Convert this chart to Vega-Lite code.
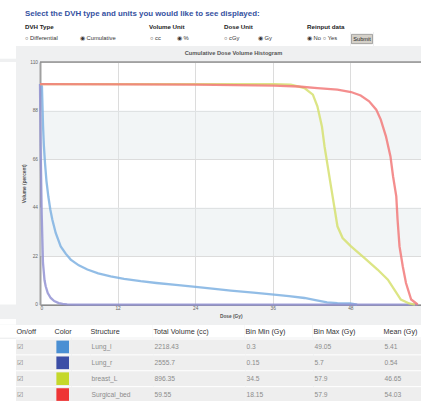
{
"$schema": "https://vega.github.io/schema/vega-lite/v6.json",
"background": "#eff0f1",
"padding": 0,
"spacing": 0,
"config": {"view": {"stroke": null}, "font": "Liberation Sans", "concat": {"spacing": 0}},
"datasets": {
"tbl": [
{"structure": "Lung_l", "total": 2218.43, "binMin": 0.3, "binMax": 49.05, "mean": 5.41},
{"structure": "Lung_r", "total": 2555.7, "binMin": 0.15, "binMax": 5.7, "mean": 0.54},
{"structure": "breast_L", "total": 896.35, "binMin": 34.5, "binMax": 57.9, "mean": 46.65},
{"structure": "Surgical_bed", "total": 59.55, "binMin": 18.15, "binMax": 57.9, "mean": 54.03}
],
"dvh": [
{"structure": "Lung_l", "dose": 0, "volume": 100},
{"structure": "Lung_l", "dose": 0.3, "volume": 99},
{"structure": "Lung_l", "dose": 0.47, "volume": 81},
{"structure": "Lung_l", "dose": 0.6, "volume": 72},
{"structure": "Lung_l", "dose": 0.78, "volume": 64},
{"structure": "Lung_l", "dose": 1.0, "volume": 56},
{"structure": "Lung_l", "dose": 1.29, "volume": 49},
{"structure": "Lung_l", "dose": 1.6, "volume": 43},
{"structure": "Lung_l", "dose": 1.91, "volume": 38.5},
{"structure": "Lung_l", "dose": 2.43, "volume": 32.5},
{"structure": "Lung_l", "dose": 3.2, "volume": 26.4},
{"structure": "Lung_l", "dose": 4.0, "volume": 23},
{"structure": "Lung_l", "dose": 4.75, "volume": 20.4},
{"structure": "Lung_l", "dose": 6.0, "volume": 17.8},
{"structure": "Lung_l", "dose": 7.33, "volume": 15.9},
{"structure": "Lung_l", "dose": 9.0, "volume": 14.2},
{"structure": "Lung_l", "dose": 10.93, "volume": 12.8},
{"structure": "Lung_l", "dose": 13.0, "volume": 11.7},
{"structure": "Lung_l", "dose": 15.57, "volume": 10.6},
{"structure": "Lung_l", "dose": 18.0, "volume": 9.8},
{"structure": "Lung_l", "dose": 21.0, "volume": 8.9},
{"structure": "Lung_l", "dose": 24.06, "volume": 8.0},
{"structure": "Lung_l", "dose": 27.0, "volume": 7.1},
{"structure": "Lung_l", "dose": 29.5, "volume": 6.3},
{"structure": "Lung_l", "dose": 33.0, "volume": 5.4},
{"structure": "Lung_l", "dose": 36.2, "volume": 4.5},
{"structure": "Lung_l", "dose": 38.5, "volume": 3.8},
{"structure": "Lung_l", "dose": 40.9, "volume": 3.0},
{"structure": "Lung_l", "dose": 42.6, "volume": 2.0},
{"structure": "Lung_l", "dose": 44.4, "volume": 1.0},
{"structure": "Lung_l", "dose": 46.0, "volume": 0.7},
{"structure": "Lung_l", "dose": 48.0, "volume": 0.5},
{"structure": "Lung_l", "dose": 49.05, "volume": 0},
{"structure": "Lung_r", "dose": 0, "volume": 100},
{"structure": "Lung_r", "dose": 0.1, "volume": 72},
{"structure": "Lung_r", "dose": 0.26, "volume": 41.5},
{"structure": "Lung_r", "dose": 0.46, "volume": 19},
{"structure": "Lung_r", "dose": 0.7, "volume": 11},
{"structure": "Lung_r", "dose": 0.88, "volume": 8.3},
{"structure": "Lung_r", "dose": 1.2, "volume": 5.2},
{"structure": "Lung_r", "dose": 1.66, "volume": 3.0},
{"structure": "Lung_r", "dose": 2.2, "volume": 1.6},
{"structure": "Lung_r", "dose": 2.9, "volume": 0.7},
{"structure": "Lung_r", "dose": 3.5, "volume": 0.3},
{"structure": "Lung_r", "dose": 4.2, "volume": 0.1},
{"structure": "Lung_r", "dose": 5.7, "volume": 0},
{"structure": "Lung_r", "dose": 20, "volume": 0},
{"structure": "Lung_r", "dose": 40, "volume": 0},
{"structure": "Lung_r", "dose": 58.4, "volume": 0},
{"structure": "breast_L", "dose": 0, "volume": 100},
{"structure": "breast_L", "dose": 20, "volume": 100},
{"structure": "breast_L", "dose": 36.2, "volume": 100},
{"structure": "breast_L", "dose": 38.8, "volume": 99.7},
{"structure": "breast_L", "dose": 40.9, "volume": 98.2},
{"structure": "breast_L", "dose": 42.2, "volume": 95.2},
{"structure": "breast_L", "dose": 42.9, "volume": 89.9},
{"structure": "breast_L", "dose": 43.6, "volume": 80.8},
{"structure": "breast_L", "dose": 44.0, "volume": 71.8},
{"structure": "breast_L", "dose": 44.5, "volume": 62.7},
{"structure": "breast_L", "dose": 45.0, "volume": 53.6},
{"structure": "breast_L", "dose": 45.5, "volume": 44.6},
{"structure": "breast_L", "dose": 46.0, "volume": 35.5},
{"structure": "breast_L", "dose": 46.8, "volume": 30.2},
{"structure": "breast_L", "dose": 48.1, "volume": 26.4},
{"structure": "breast_L", "dose": 50.2, "volume": 21.1},
{"structure": "breast_L", "dose": 52.2, "volume": 15.9},
{"structure": "breast_L", "dose": 53.8, "volume": 11.3},
{"structure": "breast_L", "dose": 54.8, "volume": 6.8},
{"structure": "breast_L", "dose": 55.8, "volume": 2.3},
{"structure": "breast_L", "dose": 57.1, "volume": 0.5},
{"structure": "breast_L", "dose": 58.0, "volume": 0},
{"structure": "Surgical_bed", "dose": 0, "volume": 100},
{"structure": "Surgical_bed", "dose": 14, "volume": 99.9},
{"structure": "Surgical_bed", "dose": 24, "volume": 99.7},
{"structure": "Surgical_bed", "dose": 36.2, "volume": 99.3},
{"structure": "Surgical_bed", "dose": 40, "volume": 98.9},
{"structure": "Surgical_bed", "dose": 42.9, "volume": 98.2},
{"structure": "Surgical_bed", "dose": 46, "volume": 97.5},
{"structure": "Surgical_bed", "dose": 48.1, "volume": 96.4},
{"structure": "Surgical_bed", "dose": 49.6, "volume": 94.8},
{"structure": "Surgical_bed", "dose": 50.9, "volume": 92.2},
{"structure": "Surgical_bed", "dose": 52.0, "volume": 88.4},
{"structure": "Surgical_bed", "dose": 52.7, "volume": 83.9},
{"structure": "Surgical_bed", "dose": 53.5, "volume": 76.3},
{"structure": "Surgical_bed", "dose": 54.2, "volume": 67.2},
{"structure": "Surgical_bed", "dose": 54.6, "volume": 58.2},
{"structure": "Surgical_bed", "dose": 55.1, "volume": 49.1},
{"structure": "Surgical_bed", "dose": 55.3, "volume": 38.5},
{"structure": "Surgical_bed", "dose": 55.6, "volume": 26.4},
{"structure": "Surgical_bed", "dose": 56.1, "volume": 17.4},
{"structure": "Surgical_bed", "dose": 56.6, "volume": 9.8},
{"structure": "Surgical_bed", "dose": 57.4, "volume": 2.3},
{"structure": "Surgical_bed", "dose": 58.2, "volume": 0.5},
{"structure": "Surgical_bed", "dose": 58.4, "volume": 0}
]
},
"vconcat": [
{"hconcat": [
 {"width": 25, "height": 21, "view": {"fill": "#ffffff"}, "data": {"values": [{}]}, "mark": {"type": "text", "text": "", "fontSize": 1}},
 {"width": 396, "height": 21, "view": {"fill": "#ffffff"}, "data": {"values": [{}]}, "mark": {"type": "text", "text": "Select the DVH type and units you would like to see displayed:", "align": "left", "baseline": "middle", "fontSize": 7.9, "fontWeight": "bold", "fill": "#35519f", "dy": 3.8}, "encoding": {"x": {"datum": 0, "type": "quantitative", "scale": {"domain": [0, 1]}, "axis": null}}}
]},
{"hconcat": [
 {"width": 25, "height": 11, "view": {"fill": "#ffffff"}, "data": {"values": [{}]}, "mark": {"type": "text", "text": "", "fontSize": 1}},
 {"width": 124, "height": 11, "view": {"fill": "#ffffff"}, "data": {"values": [{}]}, "mark": {"type": "text", "text": "DVH Type", "align": "left", "baseline": "middle", "fontSize": 6.2, "fontWeight": "bold", "fill": "#222222"}, "encoding": {"x": {"datum": 0, "type": "quantitative", "scale": {"domain": [0, 1]}, "axis": null}}},
 {"width": 75, "height": 11, "view": {"fill": "#ffffff"}, "data": {"values": [{}]}, "mark": {"type": "text", "text": "Volume Unit", "align": "left", "baseline": "middle", "fontSize": 6.2, "fontWeight": "bold", "fill": "#222222"}, "encoding": {"x": {"datum": 0, "type": "quantitative", "scale": {"domain": [0, 1]}, "axis": null}}},
 {"width": 83, "height": 11, "view": {"fill": "#ffffff"}, "data": {"values": [{}]}, "mark": {"type": "text", "text": "Dose Unit", "align": "left", "baseline": "middle", "fontSize": 6.2, "fontWeight": "bold", "fill": "#222222"}, "encoding": {"x": {"datum": 0, "type": "quantitative", "scale": {"domain": [0, 1]}, "axis": null}}},
 {"width": 114, "height": 11, "view": {"fill": "#ffffff"}, "data": {"values": [{}]}, "mark": {"type": "text", "text": "Reinput data", "align": "left", "baseline": "middle", "fontSize": 6.2, "fontWeight": "bold", "fill": "#222222"}, "encoding": {"x": {"datum": 0, "type": "quantitative", "scale": {"domain": [0, 1]}, "axis": null}}}
]},
{"hconcat": [
 {"width": 25, "height": 14, "view": {"fill": "#ffffff"}, "data": {"values": [{}]}, "mark": {"type": "text", "text": "", "fontSize": 1}},
 {"width": 55, "height": 14, "view": {"fill": "#ffffff"}, "data": {"values": [{}]}, "mark": {"type": "text", "text": "○ Differential", "align": "left", "baseline": "middle", "fontSize": 5.8, "fill": "#333333", "dy": -1.3}, "encoding": {"x": {"datum": 0, "type": "quantitative", "scale": {"domain": [0, 1]}, "axis": null}}},
 {"width": 70, "height": 14, "view": {"fill": "#ffffff"}, "data": {"values": [{}]}, "mark": {"type": "text", "text": "◉ Cumulative", "align": "left", "baseline": "middle", "fontSize": 5.8, "fill": "#333333", "dy": -1.3}, "encoding": {"x": {"datum": 0, "type": "quantitative", "scale": {"domain": [0, 1]}, "axis": null}}},
 {"width": 27, "height": 14, "view": {"fill": "#ffffff"}, "data": {"values": [{}]}, "mark": {"type": "text", "text": "○ cc", "align": "left", "baseline": "middle", "fontSize": 5.8, "fill": "#333333", "dy": -1.3}, "encoding": {"x": {"datum": 0, "type": "quantitative", "scale": {"domain": [0, 1]}, "axis": null}}},
 {"width": 47, "height": 14, "view": {"fill": "#ffffff"}, "data": {"values": [{}]}, "mark": {"type": "text", "text": "◉ %", "align": "left", "baseline": "middle", "fontSize": 5.8, "fill": "#333333", "dy": -1.3}, "encoding": {"x": {"datum": 0, "type": "quantitative", "scale": {"domain": [0, 1]}, "axis": null}}},
 {"width": 34, "height": 14, "view": {"fill": "#ffffff"}, "data": {"values": [{}]}, "mark": {"type": "text", "text": "○ cGy", "align": "left", "baseline": "middle", "fontSize": 5.8, "fill": "#333333", "dy": -1.3}, "encoding": {"x": {"datum": 0, "type": "quantitative", "scale": {"domain": [0, 1]}, "axis": null}}},
 {"width": 49, "height": 14, "view": {"fill": "#ffffff"}, "data": {"values": [{}]}, "mark": {"type": "text", "text": "◉ Gy", "align": "left", "baseline": "middle", "fontSize": 5.8, "fill": "#333333", "dy": -1.3}, "encoding": {"x": {"datum": 0, "type": "quantitative", "scale": {"domain": [0, 1]}, "axis": null}}},
 {"width": 43, "height": 14, "view": {"fill": "#ffffff"}, "data": {"values": [{}]}, "mark": {"type": "text", "text": "◉ No ○ Yes", "align": "left", "baseline": "middle", "fontSize": 5.8, "fill": "#333333", "dy": -1.3}, "encoding": {"x": {"datum": 0, "type": "quantitative", "scale": {"domain": [0, 1]}, "axis": null}}},
 {"width": 22, "height": 14, "view": {"fill": "#ffffff"}, "data": {"values": [{}]}, "layer": [
  {"mark": {"type": "point", "shape": "M-1,-0.443H1V0.443H-1Z", "size": 441, "filled": true, "fill": "#d4d0c8", "stroke": "#8a8a8a", "strokeWidth": 0.7, "opacity": 1}},
  {"mark": {"type": "text", "text": "Submit", "align": "center", "baseline": "middle", "fontSize": 5.6, "fill": "#222222"}}
 ]},
 {"width": 49, "height": 14, "view": {"fill": "#ffffff"}, "data": {"values": [{}]}, "mark": {"type": "text", "text": "", "fontSize": 1}}
]},
{"hconcat": [
 {"width": 16, "height": 12.7, "view": {"fill": "#ffffff"}, "data": {"values": [{}]}, "mark": {"type": "text", "text": "", "fontSize": 1}},
 {"width": 405, "height": 12.7, "view": {"fill": "#eff0f1"}, "data": {"values": [{}]}, "mark": {"type": "text", "text": "Cumulative Dose Volume Histogram", "align": "center", "baseline": "middle", "fontSize": 5.7, "fontWeight": "bold", "fill": "#555555", "dx": 15, "dy": 0.7}}
]},
{"bounds": "flush", "hconcat": [
 {"width": 16, "height": 242.6, "view": {"fill": "#ffffff"}, "data": {"values": [{}]}, "mark": {"type": "text", "text": "", "fontSize": 1}},
 {"width": 23.3, "height": 242.6, "view": {"fill": "#eff0f1"}, "data": {"values": [{}]}, "mark": {"type": "text", "text": "", "fontSize": 1}},
 {"width": 381.5, "height": 242.6, "view": {"fill": "#ffffff"},
  "layer": [
   {"data": {"values": [{"lo": 22, "hi": 44}, {"lo": 66, "hi": 88}]},
    "mark": {"type": "rect", "fill": "#e3e8ec", "opacity": 0.45},
    "encoding": {
     "y": {"field": "lo", "type": "quantitative", "scale": {"domain": [0, 110], "nice": false, "zero": false},
      "axis": {"values": [0, 22, 44, 66, 88, 110], "grid": true, "gridColor": "#dcdcdc", "domainColor": "#a0a0a0", "domainWidth": 2, "ticks": false, "labelFontSize": 4.8, "labelColor": "#666666", "labelPadding": 2.5, "title": "Volume (percent)", "titleFontSize": 4.8, "titleFontWeight": "bold", "titleColor": "#555555", "titlePadding": 3}},
     "y2": {"field": "hi"}
    }},
   {"data": {"values": [{}]},
    "mark": {"type": "rule", "stroke": "#666666", "strokeWidth": 1},
    "encoding": {"y": {"datum": 110, "type": "quantitative"}}},
   {"data": {"name": "dvh"},
    "mark": {"type": "line", "strokeWidth": 2.3, "opacity": 0.85},
    "encoding": {
     "x": {"field": "dose", "type": "quantitative", "scale": {"domain": [0, 59], "nice": false},
      "axis": {"values": [0, 12, 24, 36, 48], "grid": true, "gridColor": "#dcdcdc", "domainColor": "#555555", "domainWidth": 1, "ticks": false, "labelFontSize": 4.8, "labelColor": "#666666", "labelPadding": 1, "title": "Dose (Gy)", "titleFontSize": 4.8, "titleFontWeight": "bold", "titleColor": "#555555", "titlePadding": 3}},
     "y": {"field": "volume", "type": "quantitative"},
     "stroke": {"field": "structure", "type": "nominal", "scale": {"domain": ["Lung_l", "Lung_r", "breast_L", "Surgical_bed"], "range": ["#7fb2e2", "#9393d4", "#d6e070", "#f27a7a"]}, "legend": null}
    }}
  ]}
]},
{"hconcat": [
 {"width": 16, "height": 5.7, "view": {"fill": "#ffffff"}, "data": {"values": [{}]}, "mark": {"type": "text", "text": "", "fontSize": 1}},
 {"width": 405, "height": 5.7, "view": {"fill": "#eff0f1"}, "data": {"values": [{}]}, "mark": {"type": "text", "text": "", "fontSize": 1}}
]},
{"bounds": "flush", "hconcat": [
 {"width": 16, "height": 12.6, "view": {"fill": "#ffffff"}, "data": {"values": [{}]}, "mark": {"type": "text", "text": "", "fontSize": 1}},
 {"width": 38, "height": 12.6, "view": {"fill": "#ffffff"}, "data": {"values": [{}]}, "mark": {"type": "text", "text": "On/off", "align": "left", "baseline": "middle", "fontSize": 7.2, "fill": "#333333", "dx": 0.5, "dy": 0.7}, "encoding": {"x": {"datum": 0, "type": "quantitative", "scale": {"domain": [0, 1]}, "axis": null}}},
 {"width": 36, "height": 12.6, "view": {"fill": "#ffffff"}, "data": {"values": [{}]}, "mark": {"type": "text", "text": "Color", "align": "left", "baseline": "middle", "fontSize": 7.2, "fill": "#333333", "dx": 0.5, "dy": 0.7}, "encoding": {"x": {"datum": 0, "type": "quantitative", "scale": {"domain": [0, 1]}, "axis": null}}},
 {"width": 62.7, "height": 12.6, "view": {"fill": "#ffffff"}, "data": {"values": [{}]}, "mark": {"type": "text", "text": "Structure", "align": "left", "baseline": "middle", "fontSize": 7.2, "fill": "#333333", "dx": 0.5, "dy": 0.7}, "encoding": {"x": {"datum": 0, "type": "quantitative", "scale": {"domain": [0, 1]}, "axis": null}}},
 {"width": 91.6, "height": 12.6, "view": {"fill": "#ffffff"}, "data": {"values": [{}]}, "mark": {"type": "text", "text": "Total Volume (cc)", "align": "left", "baseline": "middle", "fontSize": 7.2, "fill": "#333333", "dx": 0.5, "dy": 0.7}, "encoding": {"x": {"datum": 0, "type": "quantitative", "scale": {"domain": [0, 1]}, "axis": null}}},
 {"width": 67.4, "height": 12.6, "view": {"fill": "#ffffff"}, "data": {"values": [{}]}, "mark": {"type": "text", "text": "Bin Min (Gy)", "align": "left", "baseline": "middle", "fontSize": 7.2, "fill": "#333333", "dx": 0.5, "dy": 0.7}, "encoding": {"x": {"datum": 0, "type": "quantitative", "scale": {"domain": [0, 1]}, "axis": null}}},
 {"width": 70, "height": 12.6, "view": {"fill": "#ffffff"}, "data": {"values": [{}]}, "mark": {"type": "text", "text": "Bin Max (Gy)", "align": "left", "baseline": "middle", "fontSize": 7.2, "fill": "#333333", "dx": 0.5, "dy": 0.7}, "encoding": {"x": {"datum": 0, "type": "quantitative", "scale": {"domain": [0, 1]}, "axis": null}}},
 {"width": 39.3, "height": 12.6, "view": {"fill": "#ffffff"}, "data": {"values": [{}]}, "mark": {"type": "text", "text": "Mean (Gy)", "align": "left", "baseline": "middle", "fontSize": 7.2, "fill": "#333333", "dx": 0.5, "dy": 0.7}, "encoding": {"x": {"datum": 0, "type": "quantitative", "scale": {"domain": [0, 1]}, "axis": null}}}
]},
{"bounds": "flush", "hconcat": [
 {"width": 16, "height": 63.5, "view": {"fill": "#ffffff"}, "data": {"values": [{}]}, "mark": {"type": "text", "text": "", "fontSize": 1}},
 {"width": 38, "height": 63.5, "data": {"name": "tbl"}, "layer": [
  {"mark": {"type": "rect", "fill": "#eeeeee"}, "encoding": {"y": {"field": "structure", "type": "nominal", "sort": null, "scale": {"type": "band", "domain": ["Lung_l", "Lung_r", "breast_L", "Surgical_bed"], "paddingInner": 0, "paddingOuter": 0}, "axis": null}}},
  {"mark": {"type": "rule", "stroke": "#ffffff", "strokeWidth": 1}, "encoding": {"y": {"field": "structure", "type": "nominal", "bandPosition": 0, "axis": null}}},
  {"mark": {"type": "text", "text": "☑", "align": "left", "baseline": "middle", "fontSize": 6.5, "fill": "#777777", "dx": 0.5}, "encoding": {"y": {"field": "structure", "type": "nominal", "axis": null}, "x": {"datum": 0, "type": "quantitative", "scale": {"domain": [0, 1]}, "axis": null}}}
 ]},
 {"width": 17.4, "height": 63.5, "data": {"name": "tbl"}, "layer": [
  {"mark": {"type": "rect", "fill": "#eeeeee"}, "encoding": {"y": {"field": "structure", "type": "nominal", "sort": null, "scale": {"type": "band", "domain": ["Lung_l", "Lung_r", "breast_L", "Surgical_bed"], "paddingInner": 0, "paddingOuter": 0}, "axis": null}}},
  {"mark": {"type": "rule", "stroke": "#ffffff", "strokeWidth": 1}, "encoding": {"y": {"field": "structure", "type": "nominal", "bandPosition": 0, "axis": null}}},
  {"mark": {"type": "point", "shape": "square", "filled": true, "size": 160, "opacity": 1}, "encoding": {"y": {"field": "structure", "type": "nominal", "axis": null}, "fill": {"field": "structure", "type": "nominal", "scale": {"domain": ["Lung_l", "Lung_r", "breast_L", "Surgical_bed"], "range": ["#4a8fd3", "#3c4ea6", "#c5d82b", "#ee3535"]}, "legend": null}}}
 ]},
 {"width": 18.6, "height": 63.5, "data": {"name": "tbl"}, "layer": [
  {"mark": {"type": "rect", "fill": "#eeeeee"}, "encoding": {"y": {"field": "structure", "type": "nominal", "sort": null, "scale": {"type": "band", "domain": ["Lung_l", "Lung_r", "breast_L", "Surgical_bed"], "paddingInner": 0, "paddingOuter": 0}, "axis": null}}},
  {"mark": {"type": "rule", "stroke": "#ffffff", "strokeWidth": 1}, "encoding": {"y": {"field": "structure", "type": "nominal", "bandPosition": 0, "axis": null}}}
 ]},
 {"width": 62.7, "height": 63.5, "data": {"name": "tbl"}, "layer": [
  {"mark": {"type": "rect", "fill": "#eeeeee"}, "encoding": {"y": {"field": "structure", "type": "nominal", "sort": null, "scale": {"type": "band", "domain": ["Lung_l", "Lung_r", "breast_L", "Surgical_bed"], "paddingInner": 0, "paddingOuter": 0}, "axis": null}}},
  {"mark": {"type": "rule", "stroke": "#ffffff", "strokeWidth": 1}, "encoding": {"y": {"field": "structure", "type": "nominal", "bandPosition": 0, "axis": null}}},
  {"mark": {"type": "text", "align": "left", "baseline": "middle", "fontSize": 6.7, "fill": "#8c8c8c", "dx": 0.5}, "encoding": {"y": {"field": "structure", "type": "nominal", "axis": null}, "x": {"datum": 0, "type": "quantitative", "scale": {"domain": [0, 1]}, "axis": null}, "text": {"field": "structure", "type": "nominal"}}}
 ]},
 {"width": 91.6, "height": 63.5, "data": {"name": "tbl"}, "layer": [
  {"mark": {"type": "rect", "fill": "#eeeeee"}, "encoding": {"y": {"field": "structure", "type": "nominal", "sort": null, "scale": {"type": "band", "domain": ["Lung_l", "Lung_r", "breast_L", "Surgical_bed"], "paddingInner": 0, "paddingOuter": 0}, "axis": null}}},
  {"mark": {"type": "rule", "stroke": "#ffffff", "strokeWidth": 1}, "encoding": {"y": {"field": "structure", "type": "nominal", "bandPosition": 0, "axis": null}}},
  {"mark": {"type": "text", "align": "left", "baseline": "middle", "fontSize": 6.7, "fill": "#8c8c8c", "dx": 0.5}, "encoding": {"y": {"field": "structure", "type": "nominal", "axis": null}, "x": {"datum": 0, "type": "quantitative", "scale": {"domain": [0, 1]}, "axis": null}, "text": {"field": "total", "type": "nominal"}}}
 ]},
 {"width": 67.4, "height": 63.5, "data": {"name": "tbl"}, "layer": [
  {"mark": {"type": "rect", "fill": "#eeeeee"}, "encoding": {"y": {"field": "structure", "type": "nominal", "sort": null, "scale": {"type": "band", "domain": ["Lung_l", "Lung_r", "breast_L", "Surgical_bed"], "paddingInner": 0, "paddingOuter": 0}, "axis": null}}},
  {"mark": {"type": "rule", "stroke": "#ffffff", "strokeWidth": 1}, "encoding": {"y": {"field": "structure", "type": "nominal", "bandPosition": 0, "axis": null}}},
  {"mark": {"type": "text", "align": "left", "baseline": "middle", "fontSize": 6.7, "fill": "#8c8c8c", "dx": 0.5}, "encoding": {"y": {"field": "structure", "type": "nominal", "axis": null}, "x": {"datum": 0, "type": "quantitative", "scale": {"domain": [0, 1]}, "axis": null}, "text": {"field": "binMin", "type": "nominal"}}}
 ]},
 {"width": 70, "height": 63.5, "data": {"name": "tbl"}, "layer": [
  {"mark": {"type": "rect", "fill": "#eeeeee"}, "encoding": {"y": {"field": "structure", "type": "nominal", "sort": null, "scale": {"type": "band", "domain": ["Lung_l", "Lung_r", "breast_L", "Surgical_bed"], "paddingInner": 0, "paddingOuter": 0}, "axis": null}}},
  {"mark": {"type": "rule", "stroke": "#ffffff", "strokeWidth": 1}, "encoding": {"y": {"field": "structure", "type": "nominal", "bandPosition": 0, "axis": null}}},
  {"mark": {"type": "text", "align": "left", "baseline": "middle", "fontSize": 6.7, "fill": "#8c8c8c", "dx": 0.5}, "encoding": {"y": {"field": "structure", "type": "nominal", "axis": null}, "x": {"datum": 0, "type": "quantitative", "scale": {"domain": [0, 1]}, "axis": null}, "text": {"field": "binMax", "type": "nominal"}}}
 ]},
 {"width": 39.3, "height": 63.5, "data": {"name": "tbl"}, "layer": [
  {"mark": {"type": "rect", "fill": "#eeeeee"}, "encoding": {"y": {"field": "structure", "type": "nominal", "sort": null, "scale": {"type": "band", "domain": ["Lung_l", "Lung_r", "breast_L", "Surgical_bed"], "paddingInner": 0, "paddingOuter": 0}, "axis": null}}},
  {"mark": {"type": "rule", "stroke": "#ffffff", "strokeWidth": 1}, "encoding": {"y": {"field": "structure", "type": "nominal", "bandPosition": 0, "axis": null}}},
  {"mark": {"type": "text", "align": "left", "baseline": "middle", "fontSize": 6.7, "fill": "#8c8c8c", "dx": 0.5}, "encoding": {"y": {"field": "structure", "type": "nominal", "axis": null}, "x": {"datum": 0, "type": "quantitative", "scale": {"domain": [0, 1]}, "axis": null}, "text": {"field": "mean", "type": "nominal"}}}
 ]}
]}
]
}
